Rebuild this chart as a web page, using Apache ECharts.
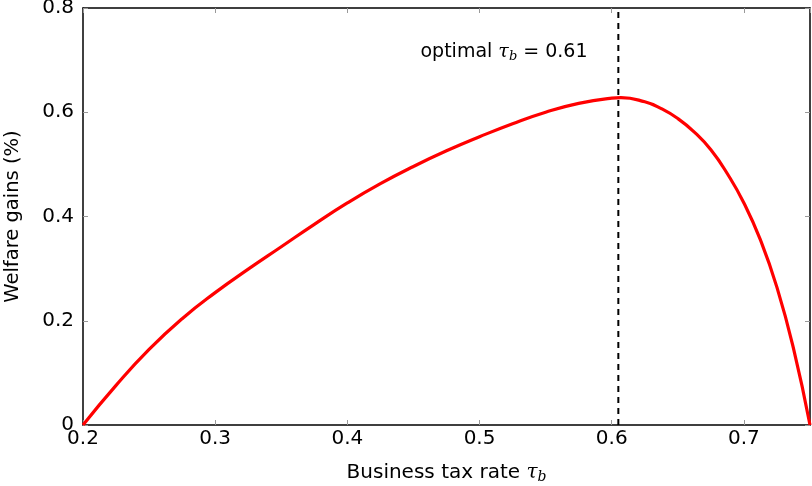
<!DOCTYPE html>
<html>
<head>
<meta charset="utf-8">
<script src="https://cdn.jsdelivr.net/npm/echarts@6/dist/echarts.min.js"></script>
<style>
  html, body { margin: 0; padding: 0; background: #fff; }
  #chart { width: 812px; height: 486px; }
</style>
</head>
<body>
<div id="chart"></div>
<script>
  // business tax rate (x) and welfare gains in % (y)
  var taxRates = [0.2, 0.225, 0.25, 0.275, 0.3, 0.325, 0.35, 0.375, 0.4, 0.425, 0.45, 0.475, 0.5,
    0.525, 0.55, 0.575, 0.6, 0.607, 0.625, 0.6375, 0.65, 0.6625, 0.675, 0.6875, 0.7, 0.7125, 0.725, 0.7375, 0.75]
  var welfareGains = [0, 0.076, 0.145, 0.204, 0.254, 0.299, 0.342, 0.385, 0.426, 0.463, 0.496, 0.526, 0.553,
    0.578, 0.6, 0.617, 0.627, 0.628, 0.62, 0.607, 0.588, 0.562, 0.528, 0.482, 0.426, 0.355, 0.264, 0.147, 0]
  var optimalTax = 0.605
  var xTicks = { min: 0.2, max: 0.75, step: 0.1 }
  var yTicks = { min: 0, max: 0.8, step: 0.2 }

  var font = 'DejaVu Sans'
  var curve = taxRates.map(function (t, i) { return [t, welfareGains[i]] })

  var tickStyle = { show: true, inside: true, length: 5, lineStyle: { color: '#999', width: 1 } }
  var frameLine = { show: true, onZero: false, lineStyle: { color: '#000', width: 1.5 } }

  var chart = echarts.init(document.getElementById('chart'))
  chart.setOption({
    animation: false,
    grid: { left: 83, right: 2, top: 8, bottom: 61, outerBoundsMode: 'none', containLabel: false },
    xAxis: [{
      type: 'value', min: xTicks.min, max: xTicks.max, interval: xTicks.step,
      axisLine: frameLine, axisTick: tickStyle, splitLine: { show: false },
      axisLabel: { color: '#000', fontFamily: font, fontSize: 20, margin: 4, showMaxLabel: false },
      name: 'Business tax rate {i|τ}{s|b}', nameLocation: 'middle', nameGap: 36,
      nameTextStyle: {
        color: '#000', fontFamily: font, fontSize: 20,
        rich: {
          i: { fontFamily: 'DejaVu Serif', fontStyle: 'italic', fontSize: 20, color: '#000' },
          s: { fontFamily: 'DejaVu Serif', fontStyle: 'italic', fontSize: 14, color: '#000', padding: [9, 0, 0, 0] }
        }
      }
    }, {
      type: 'value', position: 'top', min: xTicks.min, max: xTicks.max, interval: xTicks.step,
      axisLine: frameLine, axisTick: tickStyle, axisLabel: { show: false }, splitLine: { show: false }
    }],
    yAxis: [{
      type: 'value', min: yTicks.min, max: yTicks.max, interval: yTicks.step,
      axisLine: frameLine, axisTick: tickStyle, splitLine: { show: false },
      axisLabel: { color: '#000', fontFamily: font, fontSize: 20, margin: 9 },
      name: 'Welfare gains (%)', nameLocation: 'middle', nameGap: 60,
      nameTextStyle: { color: '#000', fontFamily: font, fontSize: 19.5 }
    }, {
      type: 'value', position: 'right', min: yTicks.min, max: yTicks.max, interval: yTicks.step,
      axisLine: frameLine, axisTick: tickStyle, axisLabel: { show: false }, splitLine: { show: false }
    }],
    series: [{
      type: 'line', data: curve, smooth: 0.5, showSymbol: false,
      lineStyle: { color: '#ff0000', width: 3.2 }, z: 3
    }, {
      type: 'line', data: [[optimalTax, yTicks.min], [optimalTax, yTicks.max]], showSymbol: false,
      lineStyle: { color: '#000', width: 2, type: [6, 5] },
      markPoint: {
        symbolSize: 0,
        data: [{ coord: [0.5185, 0.716] }],
        label: {
          show: true, position: 'inside',
          formatter: 'optimal {i|τ}{s|b} = 0.61',
          color: '#000', fontFamily: font, fontSize: 19,
          rich: {
            i: { fontFamily: 'DejaVu Serif', fontStyle: 'italic', fontSize: 19, color: '#000' },
            s: { fontFamily: 'DejaVu Serif', fontStyle: 'italic', fontSize: 13, color: '#000', padding: [9, 0, 0, 0] }
          }
        }
      }
    }]
  })
</script>
</body>
</html>
